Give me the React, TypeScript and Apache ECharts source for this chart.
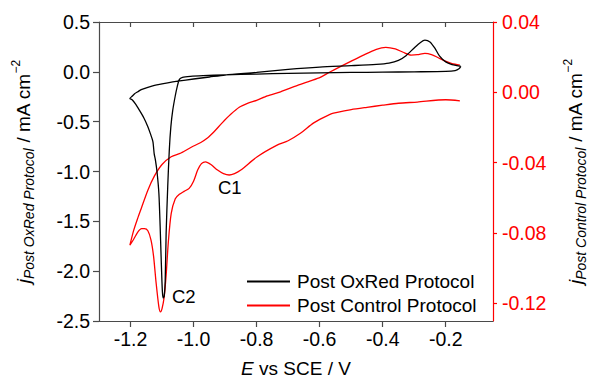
import React, { useEffect, useRef } from "react";
import * as echarts from "echarts";

const E_TICKS = [-1.2, -1.0, -0.8, -0.6, -0.4, -0.2];
const RIGHT_TICKS = [0.04, 0.0, -0.04, -0.08, -0.12];

// Post OxRed Protocol (left axis): negative-going scan then positive-going scan
const oxredE = [
  -0.152, -0.158, -0.17, -0.2, -0.3, -0.4, -0.5, -0.6, -0.7, -0.8, -0.9, -0.97, -1.01, -1.035,
  -1.045, -1.052, -1.058, -1.066, -1.072, -1.077, -1.082, -1.087, -1.09, -1.093, -1.096, -1.099,
  -1.103, -1.106, -1.11, -1.116, -1.121, -1.125, -1.129, -1.137, -1.145, -1.158, -1.172, -1.185,
  -1.195, -1.202,
  -1.195, -1.187, -1.177, -1.166, -1.145, -1.124, -1.1, -1.082, -1.05, -1.0, -0.95, -0.9, -0.8,
  -0.7, -0.6, -0.5, -0.42, -0.38, -0.35, -0.325, -0.3, -0.28, -0.266, -0.25, -0.235, -0.22, -0.2,
  -0.18, -0.165, -0.152,
];
const oxredJ = [
  0.055, 0.03, 0.012, 0.004, 0.0, -0.003, -0.006, -0.01, -0.015, -0.022, -0.03, -0.038, -0.045, -0.055,
  -0.075, -0.15, -0.24, -0.385, -0.55, -0.786, -1.155, -1.62, -2.1, -2.25, -2.27, -2.2,
  -1.85, -1.55, -1.22, -1.0, -0.886, -0.82, -0.7, -0.62, -0.55, -0.46, -0.385, -0.32,
  -0.28, -0.268,
  -0.245, -0.22, -0.2, -0.178, -0.155, -0.135, -0.12, -0.11, -0.094, -0.072, -0.052, -0.032, -0.005,
  0.025, 0.048, 0.062, 0.075, 0.088, 0.115, 0.165, 0.24, 0.295, 0.318, 0.3, 0.24, 0.16, 0.1,
  0.072, 0.062, 0.055,
];

// Post Control Protocol (right axis)
const controlE = [
  -0.155, -0.2, -0.29, -0.35, -0.4, -0.45, -0.5, -0.556, -0.59, -0.62, -0.661, -0.7, -0.735, -0.798,
  -0.85, -0.87, -0.887, -0.905, -0.924, -0.945, -0.962, -0.975, -0.987, -1.0, -1.014, -1.03, -1.045,
  -1.058, -1.071, -1.08, -1.087, -1.093, -1.1, -1.105, -1.11, -1.119, -1.127, -1.135, -1.145, -1.156,
  -1.165, -1.177, -1.19, -1.202,
  -1.19, -1.177, -1.166, -1.145, -1.124, -1.1, -1.071, -1.04, -1.0, -0.977, -0.956, -0.935, -0.91,
  -0.882, -0.855, -0.829, -0.8, -0.766, -0.724, -0.67, -0.629, -0.598, -0.566, -0.514, -0.461, -0.42,
  -0.39, -0.36, -0.335, -0.31, -0.29, -0.266, -0.245, -0.225, -0.205, -0.18, -0.155,
];
const controlJ = [
  -0.0048, -0.0042, -0.0055, -0.0062, -0.0073, -0.0085, -0.0098, -0.0118, -0.0145, -0.0175, -0.0233,
  -0.0275, -0.03, -0.0366, -0.0442, -0.0462, -0.047, -0.0462, -0.0442, -0.041, -0.0395, -0.0405,
  -0.0442, -0.0505, -0.0546, -0.0563, -0.058, -0.0605, -0.069, -0.085, -0.104, -0.116, -0.123,
  -0.1248, -0.122, -0.108, -0.093, -0.084, -0.0787, -0.0775, -0.0775, -0.0795, -0.0835, -0.0869,
  -0.0785, -0.0715, -0.066, -0.0556, -0.0475, -0.041, -0.0366, -0.0345, -0.0305, -0.0285, -0.026,
  -0.0224, -0.0175, -0.0125, -0.0085, -0.0063, -0.0045, -0.002, 0.0003, 0.004, 0.0065, 0.0085,
  0.0117, 0.0165, 0.0212, 0.0245, 0.0256, 0.0247, 0.0228, 0.0212, 0.0214, 0.0222, 0.0215, 0.0198,
  0.018, 0.0163, 0.0155,
];

const FONT = "'Liberation Sans', Arial, sans-serif";
const AXIS_GRAY = "#4a4a4a";
const RED = "#ff0000";
const TICK_FONT = 19.5;

const titleRich = {
  j: { fontStyle: "italic", fontSize: 19, fontFamily: FONT, color: "#000", lineHeight: 26 },
  sub: { fontStyle: "italic", fontSize: 14, fontFamily: FONT, color: "#000", verticalAlign: "bottom", lineHeight: 26 },
  n: { fontSize: 19, fontFamily: FONT, color: "#000", lineHeight: 26 },
  sup: { fontSize: 12, fontFamily: FONT, color: "#000", verticalAlign: "top", lineHeight: 26 },
};

export default function App() {
  const ref = useRef<HTMLDivElement>(null);
  useEffect(() => {
    if (!ref.current) return;
    const chart = echarts.init(ref.current, undefined, { renderer: "svg" });
    const oxred = oxredE.map((e, i) => [e, oxredJ[i]]);
    const control = controlE.map((e, i) => [e, controlJ[i]]);
    chart.setOption({
      animation: false,
      grid: { left: 99, right: 97, top: 22, bottom: 59, outerBoundsMode: "none" },
      legend: {
        orient: "vertical",
        left: 247,
        top: 271,
        padding: 0,
        itemWidth: 43,
        itemHeight: 2,
        itemGap: 3,
        icon: "rect",
        textStyle: { fontSize: 19, fontFamily: FONT, color: "#000", lineHeight: 21, padding: [0, 0, 0, 2] },
        data: ["Post OxRed Protocol", "Post Control Protocol"],
      },
      xAxis: [
        {
          type: "value",
          min: -1.3,
          max: -0.05,
          position: "bottom",
          name: "{i|E} vs SCE / V",
          nameLocation: "middle",
          nameGap: 38,
          nameTextStyle: {
            fontSize: 19,
            fontFamily: FONT,
            color: "#000",
            rich: { i: { fontStyle: "italic", fontSize: 19, fontFamily: FONT, color: "#000" } },
          },
          axisLine: { onZero: false, lineStyle: { color: AXIS_GRAY, width: 1.2 } },
          axisTick: { inside: false, length: 6, customValues: E_TICKS, lineStyle: { color: AXIS_GRAY, width: 1.2 } },
          axisLabel: {
            customValues: E_TICKS,
            formatter: (v: number) => v.toFixed(1),
            fontSize: TICK_FONT,
            fontFamily: FONT,
            color: "#000",
            margin: 8,
          },
          splitLine: { show: false },
        },
        {
          type: "value",
          min: -1.3,
          max: -0.05,
          position: "top",
          axisLine: { onZero: false, lineStyle: { color: AXIS_GRAY, width: 1.2 } },
          axisTick: { inside: true, length: 5, customValues: E_TICKS, lineStyle: { color: AXIS_GRAY, width: 1.2 } },
          axisLabel: { show: false },
          splitLine: { show: false },
        },
      ],
      yAxis: [
        {
          type: "value",
          min: -2.5,
          max: 0.5,
          interval: 0.5,
          position: "left",
          name: "{j|j}{sub|Post OxRed Protocol}{n| / mA cm}{sup|−2}",
          nameLocation: "middle",
          nameRotate: 90,
          nameGap: 63,
          nameTextStyle: { rich: titleRich },
          axisLine: { show: true, onZero: false, lineStyle: { color: AXIS_GRAY, width: 1.2 } },
          axisTick: { show: true, length: 6, lineStyle: { color: AXIS_GRAY, width: 1.2 } },
          axisLabel: {
            formatter: (v: number) => v.toFixed(1),
            fontSize: TICK_FONT,
            fontFamily: FONT,
            color: "#000",
            margin: 9,
          },
          splitLine: { show: false },
        },
        {
          type: "value",
          min: -0.13,
          max: 0.04,
          position: "right",
          name: "{j|j}{sub|Post Control Protocol}{n| / mA cm}{sup|−2}",
          nameLocation: "middle",
          nameRotate: 90,
          nameGap: 69,
          nameTextStyle: { rich: titleRich },
          axisLine: { show: true, onZero: false, lineStyle: { color: RED, width: 1.2 } },
          axisTick: { show: true, length: 4, customValues: RIGHT_TICKS, lineStyle: { color: RED, width: 1.2 } },
          axisLabel: {
            customValues: RIGHT_TICKS,
            formatter: (v: number) => v.toFixed(2),
            fontSize: TICK_FONT,
            fontFamily: FONT,
            color: RED,
            margin: 9,
          },
          splitLine: { show: false },
        },
      ],
      graphic: [
        { type: "text", x: 218, y: 178, style: { text: "C1", fontSize: 18.5, fontFamily: FONT, fill: "#000" } },
        { type: "text", x: 172, y: 287, style: { text: "C2", fontSize: 18.5, fontFamily: FONT, fill: "#000" } },
      ],
      series: [
        {
          name: "Post OxRed Protocol",
          type: "line",
          xAxisIndex: 0,
          yAxisIndex: 0,
          data: oxred,
          showSymbol: false,
          smooth: 0.25,
          color: "#000000",
          lineStyle: { color: "#000000", width: 1.3 },
          z: 3,
        },
        {
          name: "Post Control Protocol",
          type: "line",
          xAxisIndex: 0,
          yAxisIndex: 1,
          data: control,
          showSymbol: false,
          smooth: 0.25,
          color: RED,
          lineStyle: { color: RED, width: 1.3 },
          z: 2,
        },
      ],
    });
    return () => chart.dispose();
  }, []);
  return (
    <div
      ref={ref}
      style={{ position: "fixed", left: 0, top: 0, width: 590, height: 380, background: "#fff" }}
    />
  );
}
